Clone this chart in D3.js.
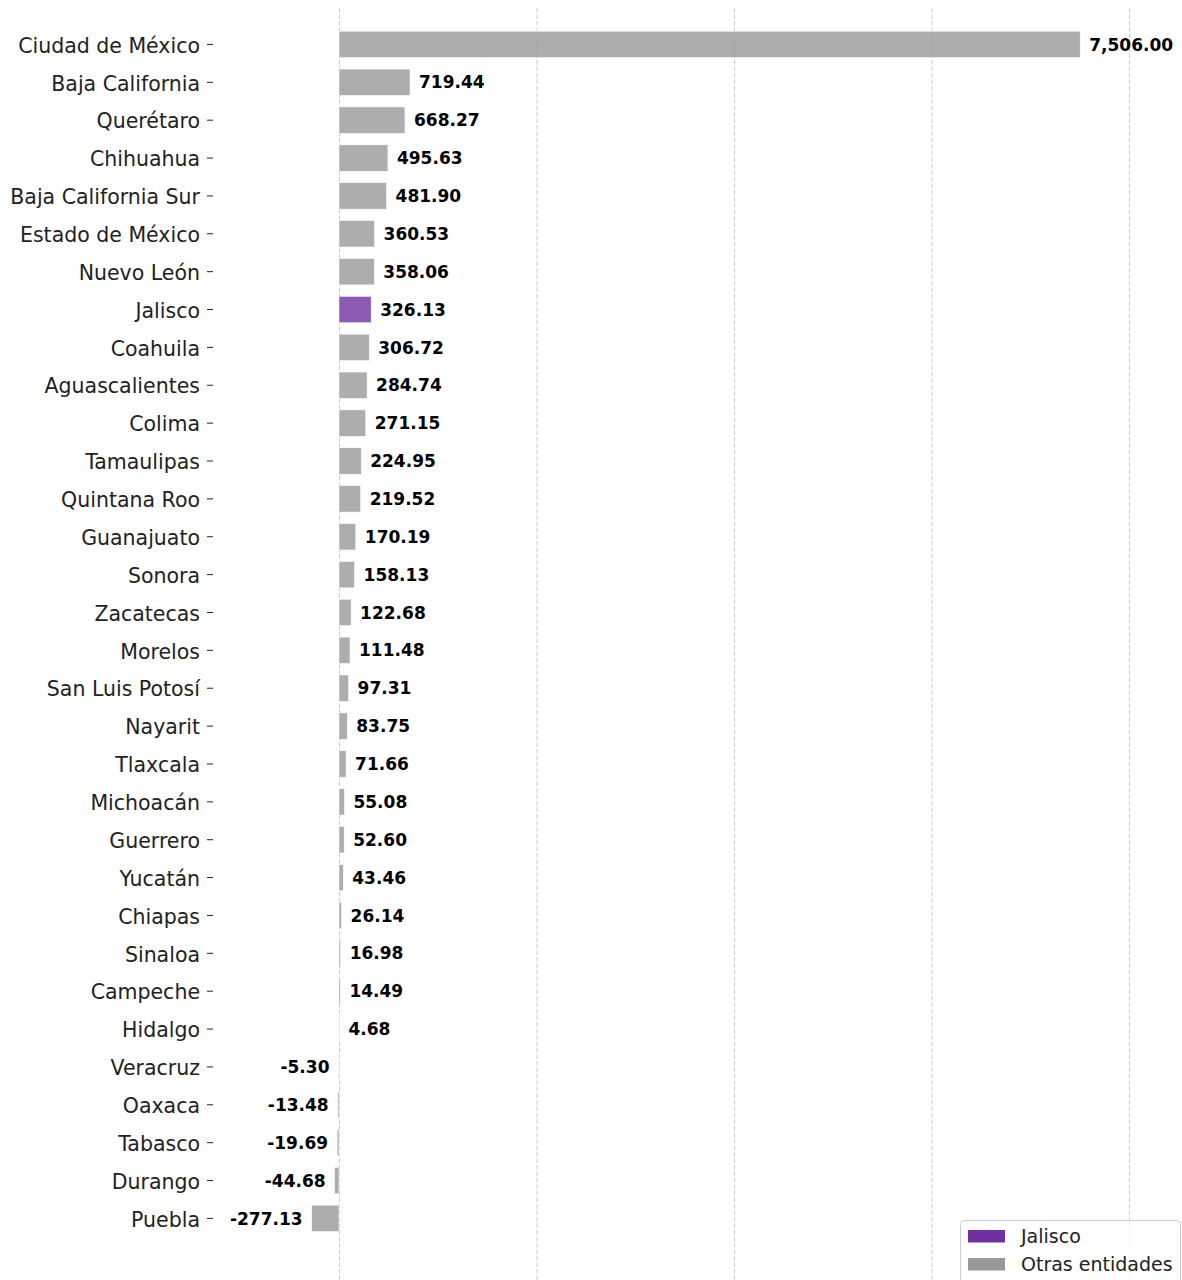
<!DOCTYPE html>
<html>
<head>
<meta charset="utf-8">
<script src="https://cdn.jsdelivr.net/npm/d3@7"></script>
<style>
  body { margin: 0; background: #fff; }
  text { font-family: "DejaVu Sans", sans-serif; }
</style>
</head>
<body>
<script>
// datos
let entidades = ["Ciudad de México", "Baja California", "Querétaro", "Chihuahua",
    "Baja California Sur", "Estado de México", "Nuevo León", "Jalisco", "Coahuila",
    "Aguascalientes", "Colima", "Tamaulipas", "Quintana Roo", "Guanajuato", "Sonora",
    "Zacatecas", "Morelos", "San Luis Potosí", "Nayarit", "Tlaxcala", "Michoacán",
    "Guerrero", "Yucatán", "Chiapas", "Sinaloa", "Campeche", "Hidalgo", "Veracruz",
    "Oaxaca", "Tabasco", "Durango", "Puebla"];
let valores = [7506.00, 719.44, 668.27, 495.63, 481.90, 360.53, 358.06, 326.13, 306.72,
    284.74, 271.15, 224.95, 219.52, 170.19, 158.13, 122.68, 111.48, 97.31, 83.75, 71.66,
    55.08, 52.60, 43.46, 26.14, 16.98, 14.49, 4.68, -5.30, -13.48, -19.69, -44.68, -277.13];
let gridTicks = [0, 2000, 4000, 6000, 8000];
let leyenda = ["Jalisco", "Otras entidades"];

let width = 1182;
let height = 1280;
let colorJal = "#7030a0";
let colorOtras = "#999999";

let datos = entidades.map((e, i) => ({ 'e': e, 'v': valores[i] }));
// formato con guion normal en vez de signo menos
let fmt = v => d3.format(",.2f")(v).replace("\u2212", "-");

let svg = d3.select("body")
    .append("svg")
    .attr("width", width)
    .attr("height", height);

let scaleX = d3.scaleLinear()
    .domain([0, 8000])
    .range([339, 1129]);
let scaleY = d3.scaleBand()
    .domain(entidades)
    .range([25.5, 25.5 + 32 * 37.87])
    .paddingInner(0.3)
    .paddingOuter(0.15);

// líneas de rejilla
svg.append("g")
    .selectAll("line")
    .data(gridTicks)
    .join("line")
    .attr("x1", d => scaleX(d) + 0.5)
    .attr("x2", d => scaleX(d) + 0.5)
    .attr("y1", 8)
    .attr("y2", height)
    .attr("stroke", "#cccccc")
    .attr("stroke-width", 1)
    .attr("stroke-dasharray", "4.5,2");

// barras
svg.append("g")
    .selectAll("rect")
    .data(datos)
    .join("rect")
    .attr("x", d => scaleX(Math.min(0, d.v)))
    .attr("width", d => Math.abs(scaleX(d.v) - scaleX(0)))
    .attr("y", d => scaleY(d.e))
    .attr("height", scaleY.bandwidth())
    .attr("fill", d => d.e == "Jalisco" ? colorJal : colorOtras)
    .attr("fill-opacity", 0.8)
    .attr("stroke", "#ffffff")
    .attr("stroke-width", 0.6);

// etiquetas de valor
svg.append("g")
    .selectAll("text")
    .data(datos)
    .join("text")
    .attr("x", d => d.v >= 0 ? scaleX(d.v) + 9 : scaleX(d.v) - 9)
    .attr("y", d => scaleY(d.e) + scaleY.bandwidth() / 2)
    .attr("dy", "0.36em")
    .attr("text-anchor", d => d.v >= 0 ? "start" : "end")
    .attr("font-size", 17)
    .attr("font-weight", "bold")
    .attr("fill", "#000")
    .text(d => fmt(d.v));

// eje vertical
let axisY = d3.axisLeft(scaleY).tickSize(6).tickPadding(7);
let gY = svg.append("g")
    .attr("transform", "translate(213, 0)")
    .call(axisY);
gY.select(".domain").remove();
gY.selectAll("text")
    .attr("font-size", 20.5)
    .attr("dy", "0.4em")
    .attr("font-family", "DejaVu Sans, sans-serif")
    .attr("fill", "#222");
gY.selectAll("line").attr("stroke", "#222");

// leyenda
let leg = svg.append("g");
leg.append("rect")
    .attr("x", 960.5)
    .attr("y", 1220.5)
    .attr("width", 220)
    .attr("height", 75)
    .attr("rx", 4)
    .attr("fill", "#fff")
    .attr("fill-opacity", 0.8)
    .attr("stroke", "#cccccc");
leyenda.forEach((t, i) => {
    leg.append("rect")
        .attr("x", 968)
        .attr("y", 1230 + i * 28)
        .attr("width", 37)
        .attr("height", 12.5)
        .attr("fill", i == 0 ? colorJal : colorOtras);
    leg.append("text")
        .attr("x", 1021)
        .attr("y", 1236 + i * 28)
        .attr("dy", "0.36em")
        .attr("font-size", 19)
        .attr("fill", "#222")
        .text(t);
});
</script>
</body>
</html>
